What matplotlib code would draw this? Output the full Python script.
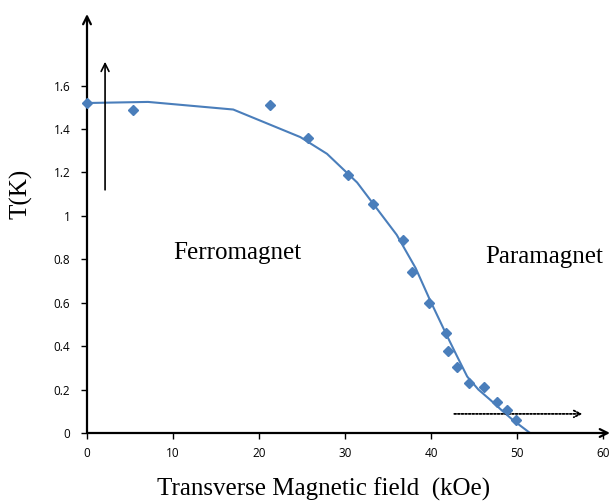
import numpy as np
import matplotlib
matplotlib.use("Agg")
import matplotlib.pyplot as plt

# measured points (kOe, K)
field_pts = [0.0, 5.35, 21.3, 25.7, 30.3, 33.3, 36.7, 37.8, 39.8, 41.7, 42.0, 43.0, 44.4, 46.2, 47.7, 48.8, 49.9]
temp_pts = [1.52, 1.49, 1.51, 1.36, 1.19, 1.056, 0.89, 0.74, 0.60, 0.46, 0.378, 0.304, 0.23, 0.21, 0.143, 0.106, 0.06]

# fitted phase boundary
field_fit = [0.0, 7.1, 17.0, 24.8, 27.9, 31.4, 36.0, 38.2, 39.9, 41.7, 43.0, 44.2, 45.5, 46.9, 48.2, 49.5, 51.5]
temp_fit = [1.52, 1.525, 1.49, 1.363, 1.286, 1.154, 0.913, 0.76, 0.61, 0.46, 0.355, 0.26, 0.20, 0.152, 0.105, 0.06, 0.0]

xticks = [0, 10, 20, 30, 40, 50, 60]
yticks = [0, 0.2, 0.4, 0.6, 0.8, 1.0, 1.2, 1.4, 1.6]
ytick_labels = ["0", "0.2", "0.4", "0.6", "0.8", "1", "1.2", "1.4", "1.6"]

blue = "#4A7EBB"
serif = "Liberation Serif"

fig = plt.figure(figsize=(6.1, 5.04), dpi=100)
ax = fig.add_axes([87/610, 71/504, (610-87)/610, (433-14)/504])
ax.set_xlim(0, 60.8)
ax.set_ylim(0, 1.93)

ax.plot(field_fit, temp_fit, color=blue, lw=1.5, zorder=3)
ax.plot(field_pts, temp_pts, "D", color=blue, ms=5.5, mec=blue, zorder=4, clip_on=False)

for s in ax.spines.values():
    s.set_visible(False)

# axes drawn as arrows
ax.annotate("", xy=(0, 1.93), xytext=(0, 0), xycoords="data",
            arrowprops=dict(arrowstyle="->", lw=1.6, color="black", mutation_scale=14,
                            shrinkA=0, shrinkB=0), annotation_clip=False)
ax.annotate("", xy=(60.8, 0), xytext=(0, 0), xycoords="data",
            arrowprops=dict(arrowstyle="->", lw=1.6, color="black", mutation_scale=14,
                            shrinkA=0, shrinkB=0), annotation_clip=False)

ax.set_xticks(xticks)
ax.set_yticks(yticks)
ax.set_yticklabels(ytick_labels)
ax.tick_params(direction="out", length=4, width=1, labelsize=8.5)
ax.tick_params(axis="x", pad=6)
ax.tick_params(axis="y", pad=8)
for lab in ax.get_xticklabels() + ax.get_yticklabels():
    lab.set_family("Open Sans")

ax.set_xlabel("Transverse Magnetic field  (kOe)", family=serif, fontsize=18)
ax.xaxis.set_label_coords(0.453, -0.107)
ax.set_ylabel("T(K)", family=serif, fontsize=18)
ax.yaxis.set_label_coords(-0.105, 0.57)

ax.text(17.5, 0.83, "Ferromagnet", family=serif, fontsize=18, ha="center", va="center")
ax.text(53.2, 0.81, "Paramagnet", family=serif, fontsize=18, ha="center", va="center")

# annotation arrows
ax.annotate("", xy=(2.1, 1.71), xytext=(2.1, 1.12),
            arrowprops=dict(arrowstyle="->", lw=1.2, color="black", mutation_scale=14,
                            shrinkA=0, shrinkB=0))
ax.annotate("", xy=(57.6, 0.088), xytext=(42.7, 0.088),
            arrowprops=dict(arrowstyle="->", lw=1.3, color="black", ls=(0, (1, 1)),
                            mutation_scale=12, shrinkA=0, shrinkB=0))

fig.savefig("out.png", dpi=100)
